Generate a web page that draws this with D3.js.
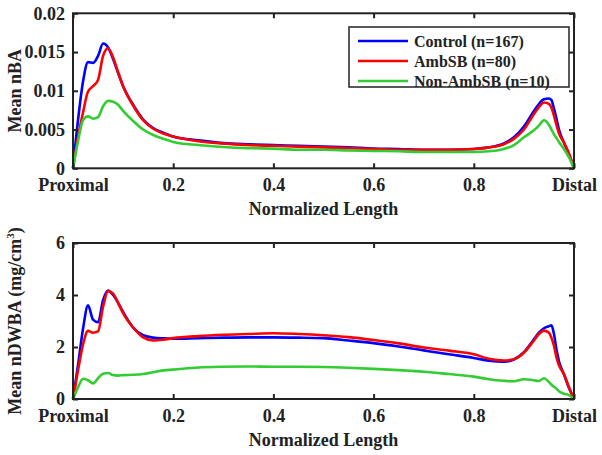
<!DOCTYPE html>
<html><head><meta charset="utf-8">
<script src="https://cdn.jsdelivr.net/npm/d3@7"></script>
<style>body{margin:0;background:#fff}svg{display:block}text{font-family:"Liberation Serif","Times New Roman",serif;font-weight:bold;fill:#222}</style>
</head><body>
<svg id="chart" width="602" height="455"></svg>
<script>
const xPos = [0,0.01,0.02,0.03,0.04,0.05,0.06,0.07,0.08,0.09,0.10,0.12,0.14,0.16,0.18,0.20,0.25,0.30,0.35,0.40,0.45,0.50,0.55,0.60,0.65,0.70,0.75,0.80,0.83,0.86,0.88,0.90,0.92,0.93,0.94,0.95,0.955,0.96,0.965,0.97,0.98,0.99,1.0];

const nbaControl = [0,0.0062,0.0112,0.0137,0.0136,0.0145,0.0161,0.0156,0.0141,0.0123,0.0106,0.0082,0.0063,0.0052,0.0046,0.0041,0.0036,0.00325,0.0031,0.0030,0.0029,0.0028,0.0027,0.00255,0.0025,0.0024,0.0024,0.0025,0.0027,0.0032,0.0040,0.0054,0.0074,0.0083,0.0089,0.0090,0.0088,0.0077,0.0064,0.0050,0.0033,0.0018,0];
const nbaAmb     = [0,0.0040,0.0072,0.0099,0.0106,0.0114,0.0145,0.0155,0.0143,0.0124,0.0106,0.0081,0.0062,0.0051,0.0045,0.0041,0.0035,0.0032,0.0030,0.0029,0.0028,0.0027,0.0026,0.0025,0.0024,0.0024,0.0024,0.0025,0.0027,0.0031,0.0038,0.0050,0.0070,0.0079,0.0085,0.0083,0.0078,0.0068,0.0056,0.0045,0.0033,0.0019,0];
const nbaNonAmb  = [0,0.0035,0.0062,0.0067,0.0064,0.0066,0.0080,0.0087,0.0086,0.0082,0.0074,0.0061,0.0050,0.0043,0.0038,0.0034,0.0030,0.00275,0.0026,0.00254,0.0024,0.0024,0.0023,0.00224,0.0022,0.0021,0.0021,0.0021,0.0022,0.0025,0.0030,0.0040,0.0049,0.0055,0.0062,0.0056,0.0050,0.0044,0.0039,0.0034,0.0025,0.0014,0];

const dwbaControl = [0,1.3,2.7,3.6,3.05,2.95,3.8,4.17,4.0,3.7,3.35,2.75,2.45,2.36,2.33,2.32,2.34,2.36,2.37,2.37,2.36,2.34,2.25,2.15,2.02,1.87,1.72,1.58,1.47,1.43,1.52,1.8,2.3,2.55,2.72,2.8,2.83,2.5,1.9,1.45,0.95,0.42,0];
const dwbaAmb     = [0,1.1,2.1,2.62,2.55,2.6,3.55,4.15,4.05,3.7,3.3,2.75,2.37,2.25,2.28,2.34,2.42,2.47,2.5,2.53,2.5,2.45,2.38,2.27,2.14,1.98,1.86,1.72,1.55,1.48,1.53,1.78,2.25,2.5,2.63,2.55,2.35,2.05,1.6,1.3,0.95,0.45,0];
const dwbaNonAmb  = [0,0.45,0.78,0.72,0.6,0.8,0.97,1.0,0.92,0.9,0.92,0.93,0.96,1.03,1.1,1.13,1.21,1.24,1.25,1.24,1.24,1.23,1.2,1.16,1.11,1.05,0.96,0.86,0.76,0.70,0.68,0.76,0.72,0.69,0.80,0.65,0.55,0.47,0.40,0.30,0.20,0.15,0];

const seriesNames = ["Control (n=167)","AmbSB (n=80)","Non-AmbSB (n=10)"];
const seriesColors = ["#0000ff","#ff0000","#33cc33"];
const xTickValues = [0,0.2,0.4,0.6,0.8,1];
const xTickLabels = ["Proximal","0.2","0.4","0.6","0.8","Distal"];
const nbaTicks = [0,0.005,0.01,0.015,0.02];
const nbaTickLabels = ["0","0.005","0.01","0.015","0.02"];
const dwbaTicks = [0,2,4,6];
const dwbaTickLabels = ["0","2","4","6"];

const svg = d3.select("#chart");
const L = 73, R = 574;

function panel(top, bottom, yMax, yTicks, yLabels, series, yTitle, legend) {
  const x = d3.scaleLinear().domain([0,1]).range([L,R]);
  const y = d3.scaleLinear().domain([0,yMax]).range([bottom,top]);
  const g = svg.append("g");
  const line = d3.line().x((d,i)=>x(xPos[i])).y(d=>y(d)).curve(d3.curveMonotoneX);
  series.forEach((s,k)=>{
    g.append("path").attr("d", line(s)).attr("fill","none")
     .attr("stroke", seriesColors[k]).attr("stroke-width",2.6).attr("stroke-linejoin","round");
  });
  // axes
  const ax = g.append("g").attr("transform",`translate(0,${bottom})`)
    .call(d3.axisBottom(x).tickValues(xTickValues).tickSize(-5).tickPadding(10).tickFormat((d,i)=>xTickLabels[i]));
  const axT = g.append("g").attr("transform",`translate(0,${top})`)
    .call(d3.axisTop(x).tickValues(xTickValues).tickSize(-5).tickFormat(""));
  const ay = g.append("g").attr("transform",`translate(${L},0)`)
    .call(d3.axisLeft(y).tickValues(yTicks).tickSize(-5).tickPadding(8).tickFormat((d,i)=>yLabels[i]));
  const ayR = g.append("g").attr("transform",`translate(${R},0)`)
    .call(d3.axisRight(y).tickValues(yTicks).tickSize(-5).tickFormat(""));
  [ax,axT,ay,ayR].forEach(a=>{
    a.select(".domain").remove();
    a.selectAll(".tick line").attr("stroke","#222").attr("stroke-width",2);
    a.selectAll("text").attr("font-size",18).attr("fill","#222").attr("font-family","Liberation Serif").attr("font-weight","bold");
  });
  g.append("rect").attr("x",L).attr("y",top).attr("width",R-L).attr("height",bottom-top)
    .attr("fill","none").attr("stroke","#222").attr("stroke-width",2);
  g.append("text").attr("x",(L+R)/2).attr("y",bottom+47).attr("text-anchor","middle").attr("font-size",18).text("Normalized Length");
  const yt = g.append("text").attr("transform",`translate(21,${(top+bottom)/2}) rotate(-90)`).attr("text-anchor","middle").attr("font-size",18);
  yTitle(yt);
  if (legend) {
    const lg = g.append("g");
    lg.append("rect").attr("x",349).attr("y",27).attr("width",220).attr("height",60)
      .attr("fill","#fff").attr("stroke","#222").attr("stroke-width",1.5);
    seriesNames.forEach((n,k)=>{
      const yy = 41 + k*20;
      lg.append("line").attr("x1",358).attr("x2",408).attr("y1",yy).attr("y2",yy)
        .attr("stroke",seriesColors[k]).attr("stroke-width",2.6);
      lg.append("text").attr("x",414).attr("y",yy+5.5).attr("font-size",16).text(n);
    });
  }
}

panel(13.3, 168.3, 0.02, nbaTicks, nbaTickLabels, [nbaControl,nbaAmb,nbaNonAmb], t=>t.text("Mean nBA"), true);
panel(243, 399, 6, dwbaTicks, dwbaTickLabels, [dwbaControl,dwbaAmb,dwbaNonAmb], t=>{
  t.append("tspan").text("Mean nDWBA (mg/cm");
  t.append("tspan").attr("font-size",11).attr("dy",-7).text("3");
  t.append("tspan").attr("dy",7).text(")");
}, false);
</script>
</body></html>
